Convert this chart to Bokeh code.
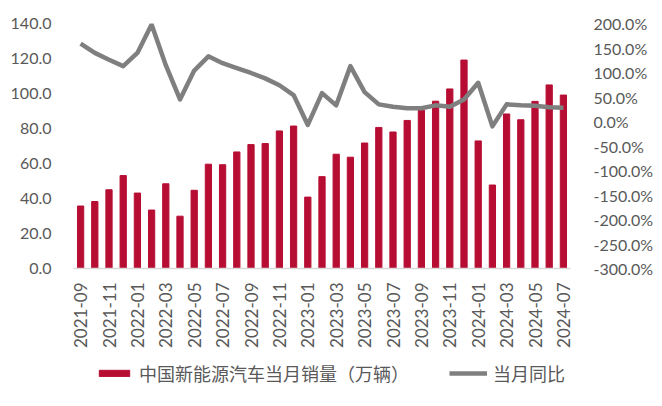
from bokeh.plotting import figure
from bokeh.layouts import column
from bokeh.models import (Range1d, LinearAxis, NumeralTickFormatter, FixedTicker,
                          Legend, LegendItem, ColumnDataSource)
from bokeh.embed import file_html
from bokeh.resources import INLINE

months = ["2021-09", "2021-10", "2021-11", "2021-12",
          "2022-01", "2022-02", "2022-03", "2022-04", "2022-05", "2022-06",
          "2022-07", "2022-08", "2022-09", "2022-10", "2022-11", "2022-12",
          "2023-01", "2023-02", "2023-03", "2023-04", "2023-05", "2023-06",
          "2023-07", "2023-08", "2023-09", "2023-10", "2023-11", "2023-12",
          "2024-01", "2024-02", "2024-03", "2024-04", "2024-05", "2024-06",
          "2024-07"]
sales = [35.7, 38.3, 45.0, 53.1,
         43.1, 33.4, 48.4, 29.9, 44.7, 59.6,
         59.3, 66.6, 70.8, 71.4, 78.6, 81.4,
         40.8, 52.5, 65.3, 63.6, 71.7, 80.6,
         78.0, 84.6, 90.4, 95.6, 102.6, 119.1,
         72.9, 47.7, 88.3, 85.0, 95.5, 104.9,
         99.1]
yoy_pct = [159, 140, 126, 113,
           140, 198, 115, 45, 104, 133,
           119, 109, 99, 88, 74, 54,
           -7, 58, 33, 113, 60, 35,
           30, 27, 27, 33, 30, 45,
           79, -10, 35, 33, 32, 29,
           28]
left_ticks = [0, 20, 40, 60, 80, 100, 120, 140]
right_ticks_pct = [-300, -250, -200, -150, -100, -50, 0, 50, 100, 150, 200]
series_names = ["中国新能源汽车当月销量（万辆）", "当月同比"]

FONT = "Lato"
CJK = "Noto Sans CJK SC"
TXT = "#595959"
RED = "#b70d33"
GREY = "#7f7f7f"

x = list(range(len(months)))
yoy = [v / 100 for v in yoy_pct]
src = ColumnDataSource(dict(x=x, sales=sales, yoy=yoy))

p = figure(width=662, height=350, output_backend="svg", toolbar_location=None,
           x_range=Range1d(-0.5, len(months) - 0.5), y_range=Range1d(0, 140),
           min_border_left=73, min_border_right=92, min_border_top=23,
           min_border_bottom=81, outline_line_color=None)
p.extra_y_ranges = {"pct": Range1d(-3, 2)}

bars = p.vbar(x="x", top="sales", width=0.44, color=RED, source=src)
line = p.line(x="x", y="yoy", y_range_name="pct", line_color=GREY, line_width=4.5,
              line_join="round", source=src)

p.xgrid.visible = False
p.ygrid.visible = False

# bottom axis
xa = p.xaxis[0]
xa.ticker = FixedTicker(ticks=x[::2])
xa.major_label_overrides = {i: months[i] for i in x}
xa.major_label_orientation = 3.14159265 / 2
xa.major_tick_line_color = None
xa.minor_tick_line_color = None
xa.axis_line_color = "#d9d9d9"
xa.axis_line_width = 1.5
xa.major_label_text_font = FONT
xa.major_label_text_font_size = "17px"
xa.major_label_text_color = TXT
xa.major_label_standoff = 8

# left axis
ya = p.yaxis[0]
ya.ticker = FixedTicker(ticks=left_ticks)
ya.formatter = NumeralTickFormatter(format="0.0")
ya.axis_line_color = None
ya.major_tick_line_color = None
ya.minor_tick_line_color = None
ya.major_label_text_font = FONT
ya.major_label_text_font_size = "16px"
ya.major_label_text_color = TXT
ya.major_label_standoff = 16

# right axis
ra = LinearAxis(y_range_name="pct",
                ticker=FixedTicker(ticks=[t / 100 for t in right_ticks_pct]),
                formatter=NumeralTickFormatter(format="0.0%"))
ra.axis_line_color = None
ra.major_tick_line_color = None
ra.minor_tick_line_color = None
ra.major_label_text_font = FONT
ra.major_label_text_font_size = "16px"
ra.major_label_text_color = TXT
ra.major_label_standoff = 17
p.add_layout(ra, "right")

# legend strip: same data source, ranges chosen so the marks fall outside view
lg = figure(width=662, height=56, output_backend="svg", toolbar_location=None,
            x_range=Range1d(1000, 1001), y_range=Range1d(1000, 1001),
            x_axis_type=None, y_axis_type=None, min_border=0,
            outline_line_color=None)
lg.xgrid.visible = False
lg.ygrid.visible = False
r1 = lg.vbar(x="x", top="sales", width=0.44, color=RED, source=src)
r2 = lg.line(x="x", y="yoy", line_color=GREY, line_width=4.5, source=src)
legend = Legend(items=[LegendItem(label=series_names[0], renderers=[r1]),
                       LegendItem(label=series_names[1], renderers=[r2])],
                orientation="horizontal", location=(22, 20),
                label_text_font=CJK, label_text_font_size="18px",
                label_text_color=TXT, glyph_width=38, glyph_height=8,
                label_height=22, spacing=40, label_standoff=6,
                border_line_color=None, background_fill_alpha=0,
                padding=0, margin=0)
lg.add_layout(legend, "center")

with open("out.html", "w") as f:
    f.write(file_html(column(p, lg, spacing=0), INLINE))
